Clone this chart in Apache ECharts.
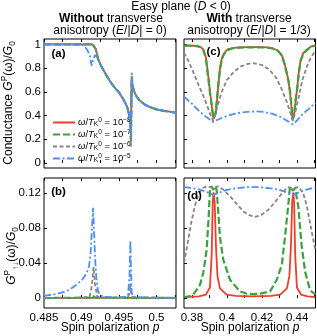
<!DOCTYPE html>
<html><head><meta charset="utf-8">
<script src="https://cdn.jsdelivr.net/npm/echarts@6/dist/echarts.min.js"></script>
<style>html,body{margin:0;padding:0;background:#fff}#c{width:317px;height:336px}</style>
</head><body><div id="c"></div>
<script>
// ---------- tick labels ----------
var ticksXL = [0.485, 0.4875, 0.49, 0.4925, 0.495, 0.4975, 0.5, 0.5025];
var labelsXL = [0.485, 0.49, 0.495, 0.5];
var ticksXR = [0.38, 0.39, 0.40, 0.41, 0.42, 0.43, 0.44, 0.45];
var labelsXR = [0.38, 0.40, 0.42, 0.44];
var ticksYTop = [0, 0.2, 0.4, 0.6, 0.8, 1];
var ticksYBot = [0, 0.04, 0.08, 0.12];
var seriesNames = ['1e-8', '1e-7', '1e-6', '1e-5'];
var legendExp = ['\u22128', '\u22127', '\u22126', '\u22125'];

// ---------- panel (a): conductance, E/|D| = 0 ----------
var pA = [0.485, 0.488, 0.4905, 0.4912, 0.4915, 0.4917, 0.4919, 0.4922, 0.4926, 0.493, 0.4935, 0.494, 0.4945, 0.495, 0.4955, 0.4958, 0.4961, 0.4963, 0.4964, 0.4965, 0.49655, 0.4966, 0.49665, 0.4967, 0.49675, 0.4968, 0.497, 0.4973, 0.4977, 0.498, 0.4985, 0.499, 0.4995, 0.5, 0.501, 0.502, 0.5026];
var gA_red = [1.0, 1.0, 1.0, 1.0, 0.998, 0.99, 0.96, 0.88, 0.82, 0.775, 0.72, 0.67, 0.63, 0.595, 0.545, 0.51, 0.47, 0.42, 0.38, 0.32, 0.30, 0.24, 0.55, 0.70, 0.68, 0.655, 0.605, 0.565, 0.53, 0.515, 0.49, 0.475, 0.463, 0.452, 0.44, 0.43, 0.425];
var gA_green = [1.0, 1.0, 1.0, 1.0, 0.998, 0.99, 0.96, 0.88, 0.82, 0.775, 0.72, 0.67, 0.63, 0.595, 0.545, 0.51, 0.47, 0.42, 0.38, 0.32, 0.26, 0.18, 0.50, 0.73, 0.69, 0.655, 0.605, 0.565, 0.53, 0.515, 0.49, 0.475, 0.463, 0.452, 0.44, 0.43, 0.425];
var gA_gray = [1.0, 1.0, 1.0, 1.0, 0.998, 0.99, 0.96, 0.88, 0.82, 0.775, 0.72, 0.67, 0.63, 0.595, 0.545, 0.51, 0.47, 0.42, 0.38, 0.32, 0.22, 0.13, 0.45, 0.76, 0.70, 0.655, 0.605, 0.565, 0.53, 0.515, 0.49, 0.475, 0.463, 0.452, 0.44, 0.43, 0.425];
var pA_blue = [0.485, 0.488, 0.4901, 0.4905, 0.4908, 0.4911, 0.49135, 0.49155, 0.4918, 0.492, 0.4922, 0.4926, 0.493, 0.4935, 0.494, 0.4945, 0.495, 0.4955, 0.4958, 0.4961, 0.4963, 0.4964, 0.4965, 0.49655, 0.4966, 0.49665, 0.4967, 0.49675, 0.4968, 0.497, 0.4973, 0.4977, 0.498, 0.4985, 0.499, 0.4995, 0.5, 0.501, 0.502, 0.5026];
var gA_blue = [1.0, 1.0, 0.995, 0.975, 0.95, 0.91, 0.82, 0.87, 0.91, 0.90, 0.88, 0.82, 0.775, 0.72, 0.67, 0.63, 0.595, 0.545, 0.51, 0.47, 0.43, 0.40, 0.35, 0.28, 0.23, 0.45, 0.72, 0.68, 0.655, 0.605, 0.565, 0.53, 0.515, 0.49, 0.475, 0.463, 0.452, 0.44, 0.43, 0.425];

// ---------- panel (b): G_updown, E/|D| = 0 ----------
var pB_red = [0.485, 0.4913, 0.4915, 0.4917, 0.4963, 0.49652, 0.4967, 0.5026];
var gB_red = [0, 0.0003, 0.0015, 0.0003, 0.0002, 0.001, 0.0002, 0];
var pB_green = [0.485, 0.4912, 0.4915, 0.4918, 0.4962, 0.49652, 0.4968, 0.5026];
var gB_green = [0, 0.0005, 0.003, 0.0005, 0.0003, 0.002, 0.0003, 0];
var pB_gray = [0.485, 0.490, 0.4911, 0.4914, 0.4916, 0.4918, 0.4921, 0.4925, 0.4955, 0.4962, 0.4964, 0.49652, 0.4966, 0.4968, 0.497, 0.5026];
var gB_gray = [0, 0.0003, 0.002, 0.015, 0.0356, 0.016, 0.002, 0.0003, 0.0002, 0.001, 0.006, 0.0164, 0.006, 0.001, 0.0002, 0];
var pB_blue = [0.485, 0.4865, 0.4875, 0.4884, 0.4893, 0.4902, 0.4907, 0.491, 0.4912, 0.4914, 0.49155, 0.4917, 0.49185, 0.492, 0.4922, 0.4925, 0.493, 0.494, 0.495, 0.4958, 0.4962, 0.4964, 0.49652, 0.4966, 0.4967, 0.4969, 0.4975, 0.499, 0.5026];
var gB_blue = [0.0026, 0.0045, 0.0065, 0.0095, 0.015, 0.022, 0.029, 0.036, 0.05, 0.08, 0.1035, 0.07, 0.04, 0.021, 0.008, 0.003, 0.0015, 0.001, 0.001, 0.0012, 0.003, 0.025, 0.066, 0.03, 0.006, 0.0015, 0.0008, 0.0005, 0.0003];

// ---------- panel (c): conductance, E/|D| = 1/3 ----------
var pC = [0.3755, 0.378, 0.381, 0.383, 0.385, 0.3865, 0.388, 0.3893, 0.3905, 0.3913, 0.3918, 0.3923, 0.3928, 0.3935, 0.3942, 0.395, 0.396, 0.397, 0.398, 0.4, 0.403, 0.407, 0.411, 0.415, 0.419, 0.423, 0.426, 0.429, 0.431, 0.4325, 0.434, 0.435, 0.436, 0.4368, 0.4374, 0.4379, 0.4385, 0.4393, 0.44, 0.441, 0.442, 0.4435, 0.4455, 0.448, 0.4505];
var gC_red = [0.99, 0.99, 0.988, 0.985, 0.977, 0.958, 0.89, 0.74, 0.58, 0.49, 0.42, 0.37, 0.36, 0.41, 0.51, 0.64, 0.79, 0.875, 0.915, 0.955, 0.968, 0.974, 0.976, 0.976, 0.976, 0.974, 0.967, 0.948, 0.915, 0.86, 0.77, 0.70, 0.59, 0.47, 0.36, 0.35, 0.43, 0.54, 0.62, 0.77, 0.865, 0.925, 0.955, 0.982, 0.99];
var gC_green = [0.99, 0.99, 0.988, 0.985, 0.975, 0.955, 0.88, 0.72, 0.57, 0.49, 0.43, 0.38, 0.37, 0.42, 0.52, 0.65, 0.79, 0.87, 0.91, 0.95, 0.965, 0.972, 0.975, 0.975, 0.975, 0.972, 0.965, 0.945, 0.91, 0.85, 0.76, 0.70, 0.60, 0.48, 0.37, 0.36, 0.44, 0.55, 0.62, 0.76, 0.86, 0.92, 0.95, 0.98, 0.99];
var pC_gray = [0.3755, 0.378, 0.381, 0.384, 0.387, 0.389, 0.3905, 0.392, 0.3935, 0.395, 0.397, 0.4, 0.404, 0.408, 0.412, 0.4155, 0.42, 0.424, 0.428, 0.431, 0.434, 0.436, 0.4377, 0.439, 0.441, 0.443, 0.446, 0.448, 0.4505];
var gC_gray = [0.93, 0.86, 0.76, 0.65, 0.55, 0.47, 0.41, 0.355, 0.42, 0.50, 0.60, 0.70, 0.77, 0.815, 0.835, 0.84, 0.825, 0.79, 0.72, 0.63, 0.52, 0.43, 0.355, 0.43, 0.56, 0.70, 0.83, 0.89, 0.95];
var pC_blue = [0.3755, 0.38, 0.384, 0.388, 0.3905, 0.392, 0.394, 0.398, 0.403, 0.408, 0.413, 0.417, 0.421, 0.426, 0.431, 0.435, 0.4377, 0.44, 0.443, 0.447, 0.4505];
var gC_blue = [0.56, 0.50, 0.44, 0.39, 0.365, 0.345, 0.36, 0.385, 0.41, 0.425, 0.433, 0.435, 0.43, 0.415, 0.385, 0.35, 0.325, 0.36, 0.41, 0.46, 0.51];

// ---------- panel (d): G_updown, E/|D| = 1/3 ----------
var pD_red = [0.3755, 0.384, 0.388, 0.3903, 0.3913, 0.3919, 0.3924, 0.393, 0.3937, 0.3946, 0.396, 0.3998, 0.405, 0.415, 0.425, 0.4304, 0.4342, 0.4356, 0.4365, 0.4372, 0.4378, 0.4383, 0.4389, 0.4399, 0.4422, 0.446, 0.4505];
var gD_red = [0.001, 0.002, 0.004, 0.012, 0.05, 0.11, 0.121, 0.11, 0.06, 0.025, 0.011, 0.004, 0.0025, 0.002, 0.0025, 0.004, 0.011, 0.025, 0.06, 0.11, 0.121, 0.11, 0.05, 0.012, 0.004, 0.002, 0.001];
var pD_green = [0.3755, 0.3785, 0.3808, 0.3846, 0.3865, 0.3884, 0.3895, 0.3903, 0.3912, 0.3922, 0.3932, 0.3941, 0.395, 0.396, 0.3979, 0.4017, 0.4074, 0.4113, 0.415, 0.419, 0.4246, 0.4284, 0.4313, 0.4331, 0.4349, 0.4359, 0.4368, 0.4378, 0.4388, 0.4397, 0.4407, 0.4426, 0.4446, 0.4474, 0.4505];
var gD_green = [0.001, 0.002, 0.004, 0.015, 0.029, 0.055, 0.09, 0.124, 0.128, 0.124, 0.128, 0.124, 0.10, 0.07, 0.044, 0.021, 0.0076, 0.005, 0.0045, 0.005, 0.0076, 0.021, 0.038, 0.07, 0.105, 0.127, 0.126, 0.123, 0.126, 0.127, 0.105, 0.06, 0.03, 0.009, 0.004];
var pD_gray = [0.3755, 0.3775, 0.3795, 0.3815, 0.3835, 0.386, 0.389, 0.392, 0.395, 0.398, 0.4015, 0.405, 0.409, 0.4125, 0.416, 0.4195, 0.4235, 0.4275, 0.431, 0.4345, 0.4377, 0.441, 0.4435, 0.4455, 0.4475, 0.4492, 0.4505];
var gD_gray = [0.04, 0.062, 0.085, 0.104, 0.118, 0.126, 0.128, 0.126, 0.128, 0.124, 0.117, 0.109, 0.10, 0.095, 0.093, 0.095, 0.101, 0.11, 0.119, 0.127, 0.126, 0.127, 0.12, 0.106, 0.085, 0.067, 0.055];
var pD_blue = [0.3755, 0.38, 0.385, 0.389, 0.3924, 0.396, 0.4, 0.406, 0.412, 0.418, 0.424, 0.43, 0.434, 0.4377, 0.441, 0.445, 0.4505];
var gD_blue = [0.127, 0.126, 0.124, 0.121, 0.118, 0.121, 0.124, 0.126, 0.127, 0.127, 0.126, 0.124, 0.121, 0.118, 0.121, 0.124, 0.127];

// ---------- build chart ----------
var FONT = '"Liberation Sans", Arial, sans-serif';
var COLORS = ['#ec3f2c', '#36a33d', '#858585', '#4d8ff5'];
var LSTYLE = [
  {width: 1.8, type: 'solid'},
  {width: 2.2, type: [7, 3]},
  {width: 1.8, type: [4, 2.5]},
  {width: 1.8, type: [7, 2.5, 2, 2.5]}
];
function zip(xs, ys) { return xs.map(function (x, i) { return [x, ys[i]]; }); }

var grids = [
  {left: 44, top: 39, width: 132, height: 129},
  {left: 44, top: 178, width: 132, height: 130},
  {left: 184, top: 39, width: 131.5, height: 129},
  {left: 184, top: 178, width: 131.5, height: 130}
].map(function (g) { return Object.assign({show: true, borderColor: '#000', borderWidth: 1, backgroundColor: 'transparent', containLabel: false}, g); });

var xRange = [[0.485, 0.5026], [0.485, 0.5026], [0.3755, 0.4505], [0.3755, 0.4505]];
var yRange = [[-0.042, 1.045], [-0.0114, 0.1375], [-0.042, 1.045], [-0.0114, 0.1375]];
var xTicks = [ticksXL, ticksXL, ticksXR, ticksXR];
var xLabels = [labelsXL, labelsXL, labelsXR, labelsXR];
var yTicks = [ticksYTop, ticksYBot, ticksYTop, ticksYBot];

var xAxes = [], yAxes = [];
for (var i = 0; i < 4; i++) {
  var bottomRow = (i === 1 || i === 3);
  var leftCol = (i === 0 || i === 1);
  ['bottom', 'top'].forEach(function (pos) {
    xAxes.push({
      gridIndex: i, type: 'value', position: pos, min: xRange[i][0], max: xRange[i][1],
      axisLine: {show: false}, splitLine: {show: false},
      axisTick: {show: true, inside: true, length: 3, customValues: xTicks[i], lineStyle: {color: '#000', width: 1}},
      axisLabel: {show: pos === 'bottom' && bottomRow, customValues: xLabels[i], margin: 4, fontSize: 11.5, color: '#000', fontFamily: FONT}
    });
  });
  yAxes.push({
    gridIndex: i, type: 'value', min: yRange[i][0], max: yRange[i][1],
    axisLine: {show: false}, splitLine: {show: false},
    axisTick: {show: true, inside: true, length: 3, customValues: yTicks[i], lineStyle: {color: '#000', width: 1}},
    axisLabel: {show: leftCol, customValues: yTicks[i], margin: 3, fontSize: 11.5, color: '#000', fontFamily: FONT}
  });
}

var panelData = [
  [zip(pA, gA_red), zip(pA, gA_green), zip(pA, gA_gray), zip(pA_blue, gA_blue)],
  [zip(pB_red, gB_red), zip(pB_green, gB_green), zip(pB_gray, gB_gray), zip(pB_blue, gB_blue)],
  [zip(pC, gC_red), zip(pC, gC_green), zip(pC_gray, gC_gray), zip(pC_blue, gC_blue)],
  [zip(pD_red, gD_red), zip(pD_green, gD_green), zip(pD_gray, gD_gray), zip(pD_blue, gD_blue)]
];
var series = [];
for (var p = 0; p < 4; p++) {
  for (var s = 0; s < 4; s++) {
    series.push({
      type: 'line', name: seriesNames[s], xAxisIndex: p * 2, yAxisIndex: p,
      data: panelData[p][s], symbol: 'none', smooth: false, animation: false,
      lineStyle: Object.assign({color: COLORS[s], cap: 'butt'}, LSTYLE[s]),
      itemStyle: {color: COLORS[s]}, z: 2 + s
    });
  }
}

function gText(x, y, text, size, opts) {
  var st = {text: text, x: 0, y: 0, fill: '#000', fontSize: size, fontFamily: FONT, align: 'center', verticalAlign: 'middle',
    lineHeight: size + 4,
    rich: {
      i: {fontStyle: 'italic', fontSize: size, fontFamily: FONT, fill: '#000'},
      b: {fontWeight: 'bold', fontSize: size, fontFamily: FONT, fill: '#000'},
      sup: {fontSize: size * 0.68, fontFamily: FONT, fill: '#000', verticalAlign: 'top', lineHeight: size * 0.68},
      sub: {fontSize: size * 0.68, fontFamily: FONT, fill: '#000', verticalAlign: 'bottom', lineHeight: size * 0.68}
    }};
  if (opts && opts.weight) st.fontWeight = opts.weight;
  return {type: 'text', x: x, y: y, rotation: (opts && opts.rot) || 0, style: st, silent: true, z: 100};
}

var graphics = [
  gText(181, 7, 'Easy plane ({i|D} < 0)', 12),
  gText(111, 19, '{b|Without} transverse', 12),
  gText(110, 31, 'anisotropy ({i|E}/|{i|D}| = 0)', 12),
  gText(249, 19, '{b|With} transverse', 12),
  gText(249, 31, 'anisotropy ({i|E}/|{i|D}| = 1/3)', 12),
  gText(9, 103, 'Conductance {i|G}{sup|P}(ω)/{i|G}{sub|0}', 12, {rot: Math.PI / 2}),
  gText(12, 256, '{i|G}{sup|P}{sub|↑↓}(ω)/{i|G}{sub|0}', 12, {rot: Math.PI / 2}),
  gText(110, 328, 'Spin polarization {i|p}', 12),
  gText(250, 328, 'Spin polarization {i|p}', 12),
  gText(58.5, 54, '(a)', 11.5, {weight: 'bold'}),
  gText(58.5, 192, '(b)', 11.5, {weight: 'bold'}),
  gText(213.5, 52, '(c)', 11.5, {weight: 'bold'}),
  gText(194.5, 196, '(d)', 11.5, {weight: 'bold'})
];

var chart = echarts.init(document.getElementById('c'), null, {renderer: 'canvas'});
chart.setOption({
  animation: false,
  backgroundColor: '#fff',
  grid: grids,
  xAxis: xAxes,
  yAxis: yAxes,
  series: series,
  legend: {
    left: 47, top: 112, orient: 'vertical', itemWidth: 22, itemHeight: 10, itemGap: 1,
    data: seriesNames, selectedMode: false,
    itemStyle: {opacity: 0, borderWidth: 0},
    formatter: function (name) {
      var k = seriesNames.indexOf(name);
      return '{i|ω}/{i|T}{sub|K}{sup|0} = 10{sup|' + legendExp[k] + '}';
    },
    textStyle: {fontSize: 9.5, fontFamily: FONT, color: '#000', lineHeight: 11, padding: [0, 0, 0, -2],
      rich: {
        i: {fontStyle: 'italic', fontSize: 9.5, fontFamily: FONT},
        sup: {fontSize: 6.5, fontFamily: FONT, verticalAlign: 'top', lineHeight: 6.5},
        sub: {fontSize: 6.5, fontFamily: FONT, verticalAlign: 'bottom', lineHeight: 6.5}
      }}
  },
  graphic: graphics
});
</script></body></html>
